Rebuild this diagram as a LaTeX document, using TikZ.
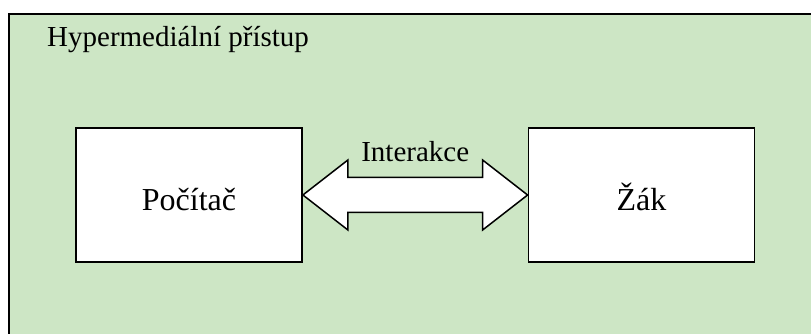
\documentclass[tikz,border=0pt]{standalone}
\usepackage{fontspec}
\setmainfont{Liberation Serif}
\usetikzlibrary{calc}
\definecolor{panelgreen}{RGB}{205,230,197}
\begin{document}
\begin{tikzpicture}[x=1pt,y=1pt,
  panelbox/.style={draw=black, line width=1.6pt, fill=panelgreen, inner sep=0pt},
  unitbox/.style={draw=black, line width=1.8pt, fill=white, inner sep=0pt,
    minimum width=226pt, minimum height=134pt,
    text height=32pt, text depth=0pt, font=\fontsize{32}{38}\selectfont},
  arrowshape/.style={draw=black, line width=1.5pt, fill=white, line join=miter},
  smalltext/.style={font=\fontsize{29}{35}\selectfont, inner sep=0pt}]
\useasboundingbox (0,0) rectangle (811,334);
% green panel, running off the right and bottom edges
\begin{scope}
  \clip (0,0) rectangle (811,334);
  \node[panelbox, anchor=north west, minimum width=830pt, minimum height=345pt] (panel) at (8,321) {};
\end{scope}
\node[smalltext, anchor=base west] (title) at (47,287) {Hypermediální přístup};
% the two parties
\node[unitbox] (pc) at (189,139) {Počítač};
\node[unitbox] (zak) at (641.5,139) {Žák};
% double-headed interaction arrow
\draw[arrowshape] (pc.east) -- ++(45,35) -- ++(0,-17.5)
  -- ($(zak.west)+(-45,17.5)$) -- ++(0,17.5) -- (zak.west)
  -- ++(-45,-35) -- ++(0,17.5) -- ($(pc.east)+(45,-17.5)$)
  -- ++(0,-17.5) -- cycle;
\node[smalltext, anchor=base] (inter) at ($(pc.east)!0.5!(zak.west)+(0,33)$) {Interakce};
\end{tikzpicture}
\end{document}
